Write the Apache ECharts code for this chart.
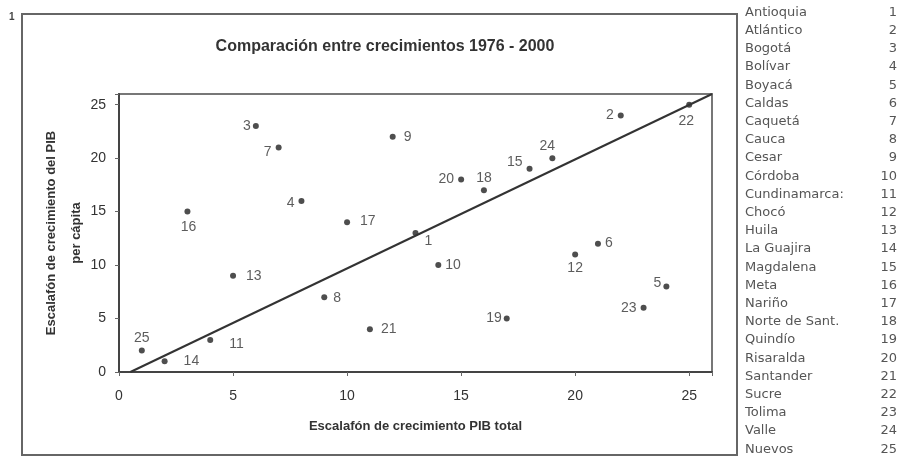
<!DOCTYPE html>
<html>
<head>
<meta charset="utf-8">
<script src="https://cdn.jsdelivr.net/npm/echarts@6/dist/echarts.min.js"></script>
<style>html,body{margin:0;padding:0;background:#fff;}#c{width:907px;height:457px;}</style>
</head>
<body>
<div id="c"></div>
<script>
// ---- data ----
const titleText = 'Comparación entre crecimientos 1976 - 2000';
const xAxisTitle = 'Escalafón de crecimiento PIB total';
const yAxisTitle = 'Escalafón de crecimiento del PIB\nper cápita';
const pointIds = [1,2,3,4,5,6,7,8,9,10,11,12,13,14,15,16,17,18,19,20,21,22,23,24,25];
const xRankTotal = [13,22,6,8,24,21,7,9,12,14,4,20,5,2,18,3,10,16,17,15,11,25,23,19,1];
const yRankPerCapita = [13,24,23,16,8,12,21,7,22,10,3,11,9,1,19,15,14,17,5,18,4,25,6,20,2];
const diagLine = [[0.5,0],[26,26]];
const axisTicks = [0,5,10,15,20,25];
const deptNames = ['Antioquia','Atlántico','Bogotá','Bolívar','Boyacá','Caldas','Caquetá','Cauca','Cesar','Córdoba','Cundinamarca:','Chocó','Huila','La Guajira','Magdalena','Meta','Nariño','Norte de Sant.','Quindío','Risaralda','Santander','Sucre','Tolima','Valle','Nuevos'];

// ---- label placement (style) ----
const labelPlacement = {
  1:{p:'right',o:[2,8]}, 2:{p:'left',o:[0,0]}, 3:{p:'left',o:[2,0]}, 4:{p:'left',o:[0,2]},
  5:{p:'left',o:[2,-3]}, 6:{p:'right',o:[0,-1]}, 7:{p:'left',o:[0,5]}, 8:{p:'right',o:[2,1]},
  9:{p:'right',o:[4,0]}, 10:{p:'right',o:[0,0]}, 11:{p:'right',o:[12,4]}, 12:{p:'bottom',o:[0,0]},
  13:{p:'right',o:[6,0]}, 14:{p:'right',o:[12,0]}, 15:{p:'left',o:[0,-7]}, 16:{p:'bottom',o:[1,2]},
  17:{p:'right',o:[6,-1]}, 18:{p:'top',o:[0,2]}, 19:{p:'left',o:[2,0]}, 20:{p:'left',o:[0,0]},
  21:{p:'right',o:[4,0]}, 22:{p:'bottom',o:[-3,2]}, 23:{p:'left',o:[0,0]}, 24:{p:'top',o:[-5,2]},
  25:{p:'top',o:[0,2]}
};

const pts = pointIds.map((id,i)=>({
  value:[xRankTotal[i], yRankPerCapita[i], id],
  label:{position:labelPlacement[id].p, offset:labelPlacement[id].o}
}));

const legendGraphics = [];
deptNames.forEach((n,i)=>{
  const y = 14 + i*18.2;
  legendGraphics.push({type:'text', left:745, top:y-8, style:{text:n, font:'13px "DejaVu Sans"', fill:'#555'}});
  legendGraphics.push({type:'text', right:10, top:y-8, style:{text:String(pointIds[i]), font:'13px "DejaVu Sans"', fill:'#555', textAlign:'right'}});
});

const chart = echarts.init(document.getElementById('c'), null, {renderer:'canvas'});
const axisCommon = {
  type:'value', min:0, max:26, interval:5,
  axisLine:{show:true, onZero:false, lineStyle:{color:'#444', width:2}},
  axisTick:{show:true, length:4, lineStyle:{color:'#666'}},
  splitLine:{show:false},
  nameLocation:'middle',
  nameMoveOverlap:false,
  nameTextStyle:{color:'#333', fontSize:13, fontWeight:'bold', fontFamily:'Liberation Sans', lineHeight:25}
};
const labelCommon = {color:'#333', fontSize:14, fontFamily:'Liberation Sans',
  formatter:v=> axisTicks.includes(v) ? String(v) : ''};
chart.setOption({
  backgroundColor:'#fff',
  animation:false,
  title:{text:titleText, left:380, top:34, textAlign:'center',
    textStyle:{fontSize:16, fontWeight:'bold', color:'#333', fontFamily:'Liberation Sans'}},
  grid:{left:119, right:195, top:94, bottom:85, show:true, borderColor:'#777', borderWidth:2, backgroundColor:'transparent'},
  xAxis:Object.assign({}, axisCommon, {name:xAxisTitle, nameGap:42, axisLabel:Object.assign({margin:17}, labelCommon)}),
  yAxis:Object.assign({}, axisCommon, {name:yAxisTitle, nameGap:30, axisLabel:Object.assign({margin:13}, labelCommon)}),
  series:[
    {type:'line', data:diagLine, symbol:'none', silent:true,
      lineStyle:{color:'#333', width:2}},
    {type:'scatter', data:pts, symbol:'circle', symbolSize:6,
      itemStyle:{color:'#222'},
      label:{show:true, formatter:p=>String(p.value[2]), color:'#333', fontSize:14, fontFamily:'Liberation Sans', distance:4}}
  ],
  graphic:[
    {type:'rect', shape:{x:22, y:14, width:715, height:441}, style:{fill:'none', stroke:'#666', lineWidth:2}, silent:true},
    {type:'text', left:9, top:12, style:{text:'1', font:'bold 10px "Liberation Sans"', fill:'#444'}}
  ].concat(legendGraphics)
});
</script>
</body>
</html>
